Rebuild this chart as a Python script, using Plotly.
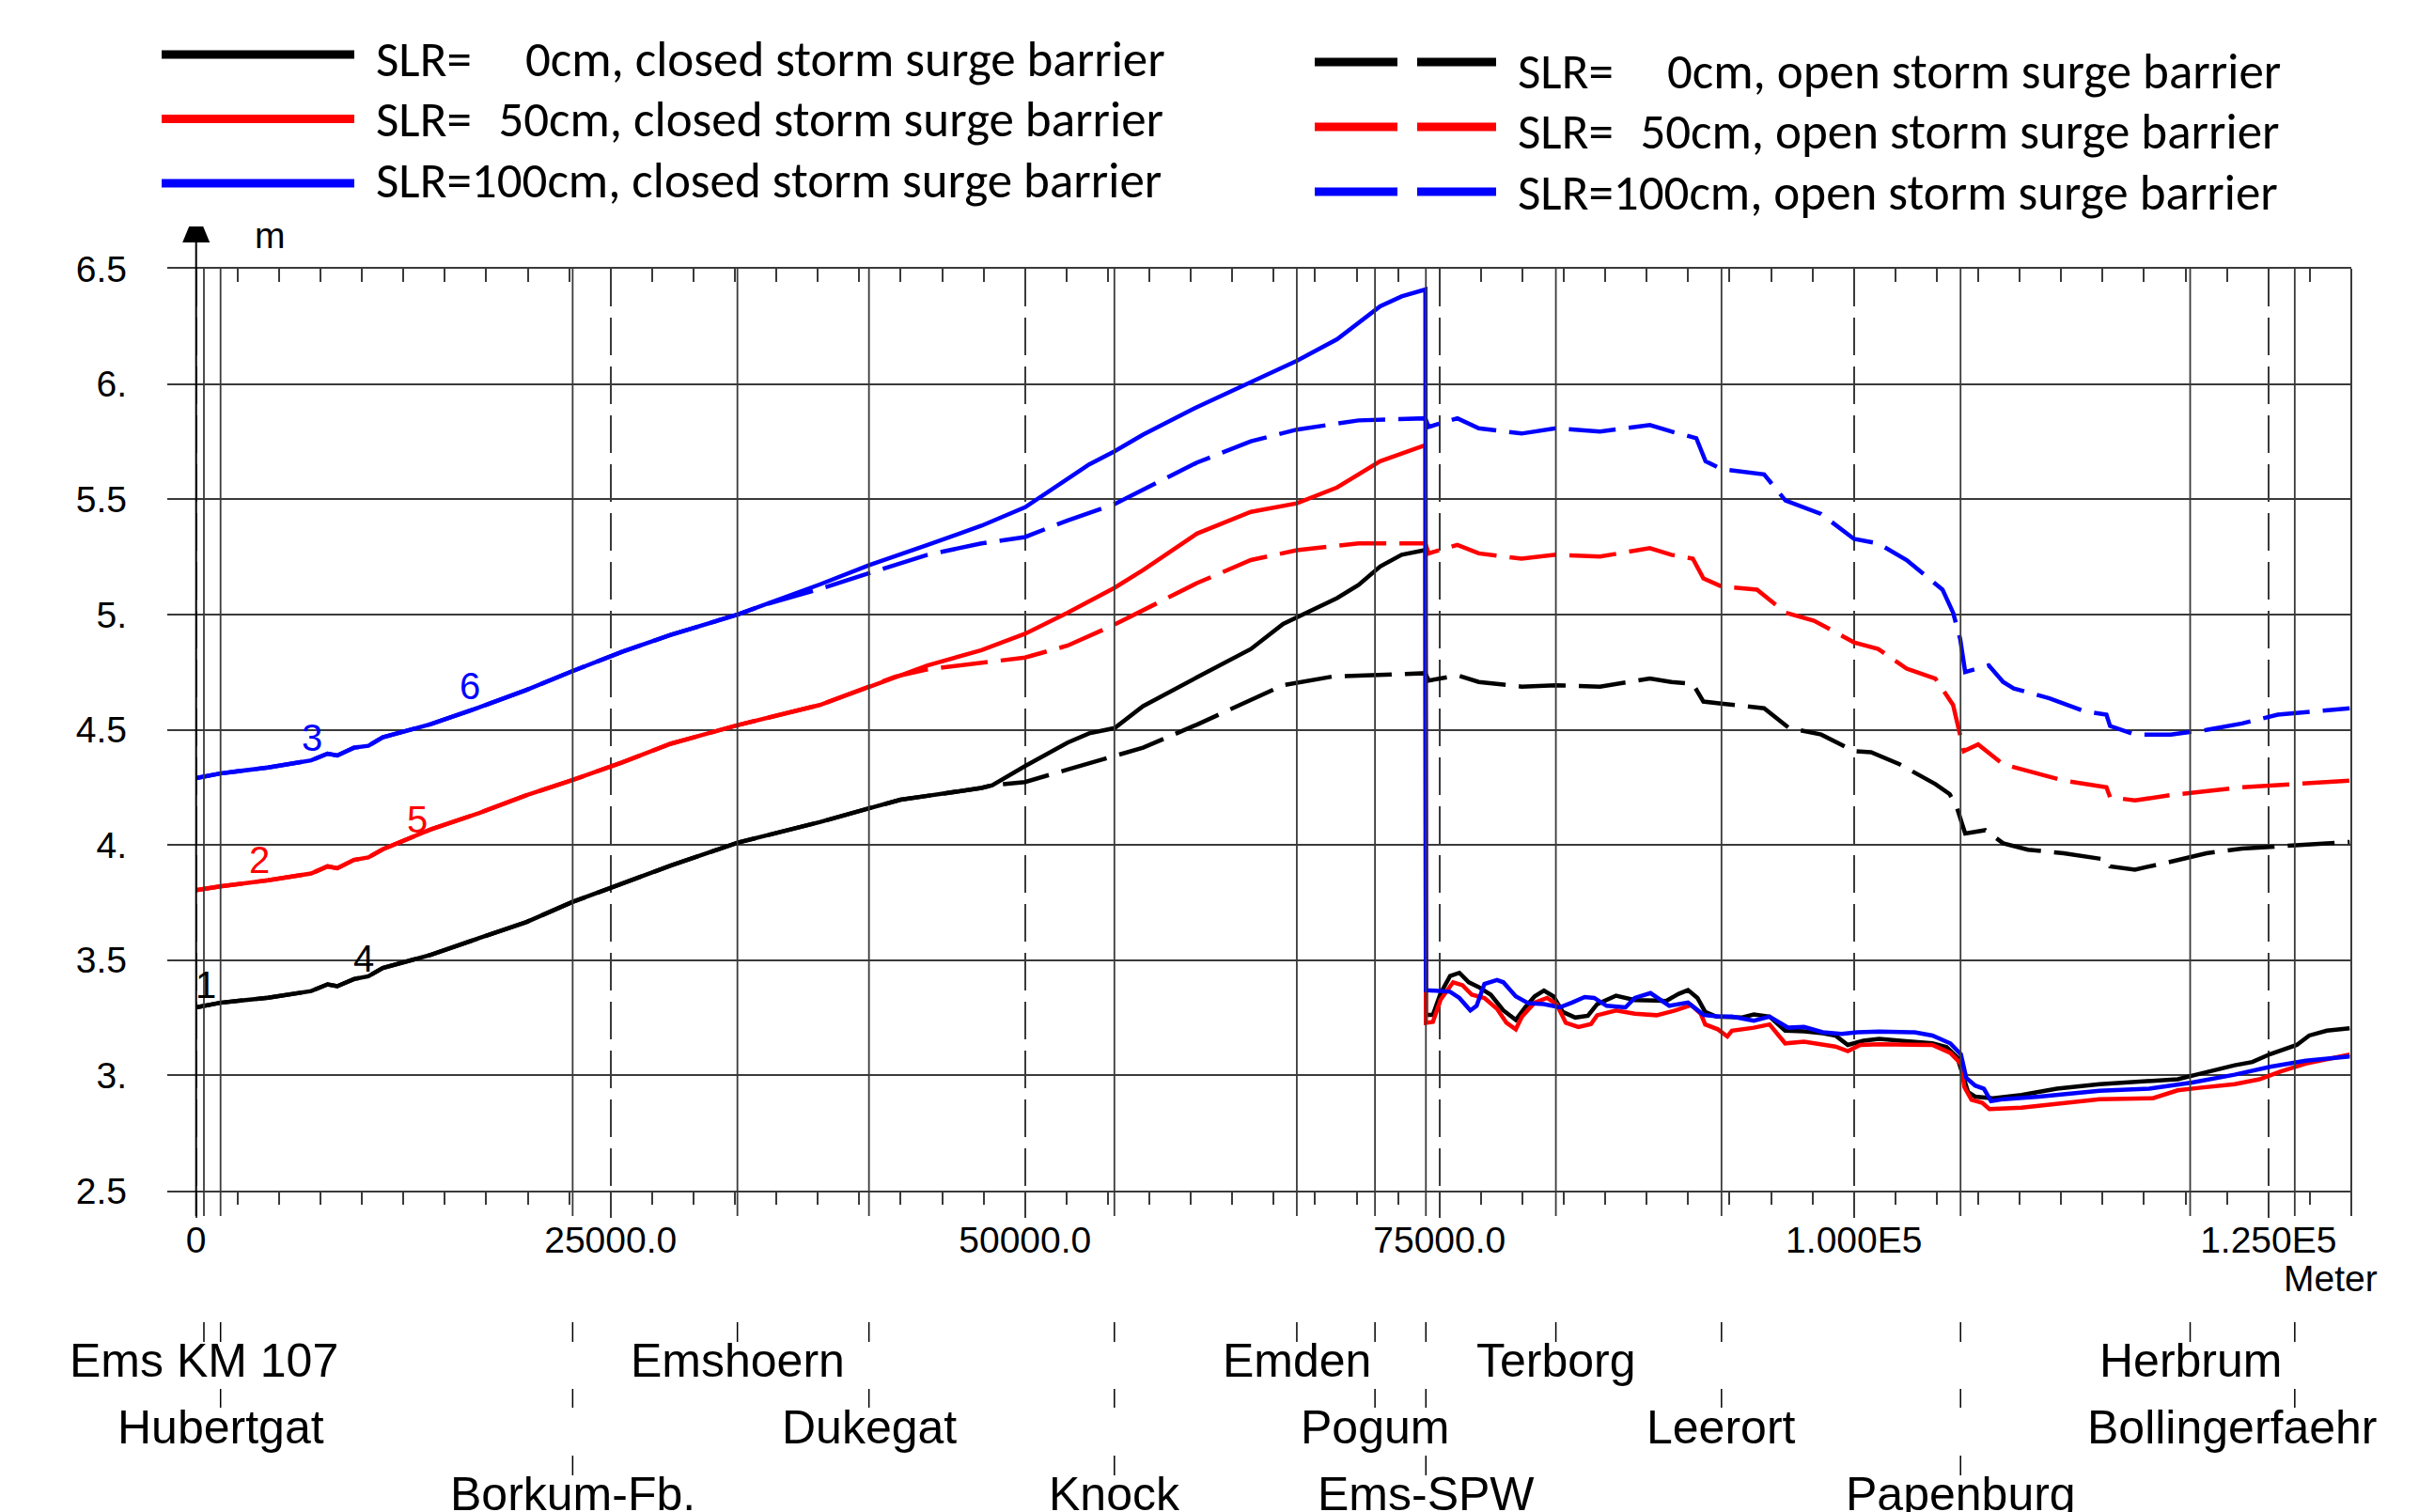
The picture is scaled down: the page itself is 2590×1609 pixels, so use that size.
import plotly.graph_objects as go

# ---------------------------------------------------------------- data
stations = ["Ems KM 107", "Hubertgat", "Borkum-Fb.", "Emshoern", "Dukegat", "Knock",
            "Emden", "Pogum", "Ems-SPW", "Terborg", "Leerort", "Papenburg", "Herbrum",
            "Bollingerfaehr"]
station_m = [470, 1474, 22713, 32650, 40585, 55390, 66394, 71109, 74180, 82020, 92010,
             106430, 120280, 126590]
station_row = [1, 2, 3, 1, 2, 3, 1, 2, 3, 1, 2, 3, 1, 2]

xtick_vals = [0, 25000, 50000, 75000, 100000, 125000]
xtick_text = ["0", "25000.0", "50000.0", "75000.0", "1.000E5", "1.250E5"]
ytick_vals = [2.5, 3.0, 3.5, 4.0, 4.5, 5.0, 5.5, 6.0, 6.5]
ytick_text = ["2.5", "3.", "3.5", "4.", "4.5", "5.", "5.5", "6.", "6.5"]

legend_closed = ["SLR=\u2007\u20070cm, closed storm surge barrier",
                 "SLR=\u200750cm, closed storm surge barrier",
                 "SLR=100cm, closed storm surge barrier"]
legend_open = ["SLR=\u2007\u20070cm, open storm surge barrier",
               "SLR=\u200750cm, open storm surge barrier",
               "SLR=100cm, open storm surge barrier"]

# closed storm surge barrier, SLR = 0 cm
x_closed_0 = [0, 1450, 4340, 6940, 7930, 8510, 9520, 10390, 11260, 14150, 17050, 19940, 22690,
              25730, 28620, 32680, 37610, 40600, 42490, 44120, 47370, 48020, 50000, 52570,
              53870, 55400, 57120, 60370, 63620, 65570, 66390, 68820, 70120, 71420, 72720,
              74150,
              74180, 74600, 75070, 75640, 76200, 76770, 77340, 78090, 78850, 79600, 80170,
              80740, 81300, 81870, 82440, 83190, 83950, 84510, 85650, 86780, 88100, 88670,
              89430, 89990, 90560, 91030, 91700, 92450, 93210, 93960, 94910, 95850, 96990,
              98120, 98880, 99630, 100570, 101520, 103660, 104730, 105590, 106240, 106560,
              106880, 107310, 108380, 110100, 112240, 114810, 117600, 119530, 120820, 122960,
              124030, 125100, 126710, 127460, 128530, 129900]
y_closed_0 = [3.295, 3.315, 3.337, 3.366, 3.395, 3.387, 3.418, 3.43, 3.466, 3.523, 3.595, 3.666,
              3.752, 3.832, 3.91, 4.01, 4.099, 4.159, 4.196, 4.213, 4.247, 4.259, 4.342, 4.444,
              4.484, 4.507, 4.602, 4.727, 4.85, 4.959, 4.988, 5.071, 5.128, 5.208, 5.259,
              5.28,
              3.262, 3.262, 3.357, 3.431, 3.445, 3.404, 3.384, 3.35, 3.282, 3.241, 3.295,
              3.343, 3.368, 3.343, 3.275, 3.251, 3.259, 3.309, 3.346, 3.327, 3.325, 3.323,
              3.354, 3.37, 3.336, 3.275, 3.255, 3.251, 3.251, 3.264, 3.255, 3.194, 3.191,
              3.183, 3.173, 3.132, 3.15, 3.158, 3.146, 3.139, 3.123, 3.078, 3.003,
              2.928, 2.908, 2.901, 2.915, 2.942, 2.962, 2.976, 2.983, 3.006, 3.044,
              3.058, 3.092, 3.132, 3.173, 3.194, 3.204]

# closed storm surge barrier, SLR = 50 cm
x_closed_50 = [0, 1450, 4340, 6940, 7930, 8510, 9520, 10390, 11260, 14150, 17050, 19940, 22690,
               25730, 28620, 32680, 37610, 40600, 44120, 47370, 50000, 52570, 55400, 57120,
               60370, 63620, 66390, 68820, 71420, 74150,
               74180, 74600, 75070, 75820, 76390, 76950, 77710, 78470, 79040, 79600, 79980,
               80740, 81490, 82060, 82620, 83380, 84140, 84510, 85650, 86780, 88100, 89240,
               90180, 90750, 91030, 91790, 92360, 92640, 93960, 94910, 95850, 96990, 98120,
               98880, 99630, 100380, 101520, 103660, 104730, 105810, 106450, 106660, 107090,
               107740, 108170, 110100, 112240, 114810, 118030, 119530, 120820, 122960, 124460,
               125750, 127250, 129900]
y_closed_50 = [3.804, 3.82, 3.847, 3.876, 3.907, 3.899, 3.935, 3.946, 3.981, 4.067, 4.138, 4.216,
               4.281, 4.359, 4.439, 4.52, 4.607, 4.687, 4.779, 4.845, 4.916, 5.008, 5.116, 5.193,
               5.351, 5.445, 5.482, 5.551, 5.665, 5.735,
               3.228, 3.232, 3.329, 3.404, 3.391, 3.35, 3.336, 3.289, 3.228, 3.2, 3.255,
               3.316, 3.336, 3.309, 3.228, 3.21, 3.223, 3.261, 3.282, 3.268, 3.261, 3.282,
               3.305, 3.268, 3.221, 3.2, 3.169, 3.194, 3.207, 3.221, 3.139, 3.146, 3.136,
               3.125, 3.105, 3.132, 3.135, 3.132, 3.132, 3.098, 3.051, 2.949, 2.894,
               2.881, 2.854, 2.86, 2.878, 2.897, 2.901, 2.935, 2.946, 2.962, 2.983,
               3.017, 3.051, 3.09]

# closed storm surge barrier, SLR = 100 cm
x_closed_100 = [0, 1450, 4340, 6940, 7930, 8510, 9520, 10390, 11260, 14150, 17050, 19940, 22690,
                25730, 28620, 32680, 37610, 40600, 44120, 47370, 50000, 52570, 53870, 55400,
                57120, 60370, 63620, 66390, 68820, 71420, 72720, 74150,
                74180, 75070, 75640, 76200, 76860, 77240, 77710, 78470, 78850, 79600, 80360,
                81300, 82250, 83000, 83760, 84330, 85080, 86220, 86780, 87730, 88860, 89990,
                90940, 91880, 92640, 93960, 94910, 96040, 96990, 98120, 99250, 100200, 101520,
                103660, 104730, 105810, 106450, 106770, 107310, 107840, 108270, 109020, 111170,
                114810, 117810, 120390, 122960, 125100, 127250, 129900]
y_closed_100 = [4.29, 4.31, 4.336, 4.367, 4.396, 4.388, 4.422, 4.43, 4.467, 4.524, 4.596, 4.673,
                4.754, 4.839, 4.911, 5.0, 5.13, 5.214, 5.302, 5.385, 5.465, 5.585, 5.651, 5.708,
                5.78, 5.9, 6.008, 6.1, 6.194, 6.337, 6.38, 6.41,
                3.37, 3.367, 3.363, 3.336, 3.282, 3.302, 3.397, 3.414, 3.404, 3.343, 3.313,
                3.309, 3.295, 3.316, 3.34, 3.336, 3.302, 3.295, 3.336, 3.357, 3.302, 3.316,
                3.262, 3.255, 3.255, 3.237, 3.255, 3.207, 3.21, 3.187, 3.18, 3.187, 3.19,
                3.187, 3.173, 3.139, 3.092, 2.99, 2.956, 2.942, 2.888, 2.897, 2.908,
                2.933, 2.942, 2.969, 3.003, 3.037, 3.064, 3.082]

# open storm surge barrier, SLR = 0 cm
x_open_0 = [0, 1450, 4340, 6940, 7930, 8510, 9520, 10390, 11260, 14150, 17050, 19940, 22690,
            25730, 28620, 32680, 37610, 40600, 42490, 44120, 47370, 48020, 49200, 50000, 52570,
            55400, 57120, 60370, 63620, 65570, 68500, 71750, 74140, 74350, 76080, 77370, 79950,
            82010, 84680, 87690, 88980, 90280, 90920, 92000, 94580, 96090, 98020, 100000,
            101030, 102750, 104910, 105770, 106200, 106710, 107920, 109000, 110500, 112650,
            113940, 115230, 115450, 116950, 119110, 121260, 123410, 125560, 129900]
y_open_0 = [3.295, 3.315, 3.337, 3.366, 3.395, 3.387, 3.418, 3.43, 3.466, 3.523, 3.595, 3.666,
            3.752, 3.832, 3.91, 4.01, 4.099, 4.159, 4.196, 4.213, 4.247, 4.259, 4.265, 4.273,
            4.327, 4.384, 4.422, 4.522, 4.63, 4.693, 4.73, 4.739, 4.745, 4.713, 4.736, 4.707,
            4.687, 4.693, 4.687, 4.722, 4.707, 4.699, 4.622, 4.613, 4.593, 4.507, 4.479, 4.407,
            4.402, 4.35, 4.264, 4.221, 4.164, 4.05, 4.064, 4.007, 3.979, 3.964, 3.95, 3.936,
            3.907, 3.893, 3.927, 3.964, 3.984, 3.993, 4.013]

# open storm surge barrier, SLR = 50 cm
x_open_50 = [0, 1450, 4340, 6940, 7930, 8510, 9520, 10390, 11260, 14150, 17050, 19940, 22690,
             25730, 28620, 32680, 37610, 40600, 42160, 44120, 47370, 50000, 52570, 55400,
             60370, 63620, 66390, 70120, 74140, 74350, 76080, 77370, 79950, 82010, 84680,
             87690, 88980, 90280, 90920, 92000, 94150, 95870, 97590, 100000, 101460, 103180,
             104910, 105980, 106630, 107490, 109000, 110500, 112650, 115230, 115450, 116950,
             119110, 123410, 129900]
y_open_50 = [3.804, 3.82, 3.847, 3.876, 3.907, 3.899, 3.935, 3.946, 3.981, 4.067, 4.138, 4.216,
             4.281, 4.359, 4.439, 4.52, 4.607, 4.687, 4.73, 4.762, 4.79, 4.813, 4.865, 4.956,
             5.136, 5.236, 5.279, 5.308, 5.308, 5.265, 5.302, 5.265, 5.242, 5.259, 5.251,
             5.288, 5.259, 5.242, 5.156, 5.122, 5.108, 5.008, 4.973, 4.879, 4.85, 4.765,
             4.722, 4.607, 4.407, 4.436, 4.35, 4.322, 4.279, 4.25, 4.207, 4.193,
             4.216, 4.25, 4.279]

# open storm surge barrier, SLR = 100 cm
x_open_100 = [0, 1450, 4340, 6940, 7930, 8510, 9520, 10390, 11260, 14150, 17050, 19940, 22690,
              25730, 28620, 32680, 34360, 37610, 40600, 44120, 47370, 50000, 52570, 55400,
              60370, 63620, 66390, 70120, 74140, 74350, 76080, 77370, 79950, 82010, 84680,
              87690, 88980, 90490, 91050, 92000, 94580, 95870, 98020, 100000, 101460, 103180,
              105340, 105980, 106410, 106710, 108130, 109000, 109640, 111790, 113940, 115230,
              115450, 116950, 119110, 121260, 123410, 125560, 129900]
y_open_100 = [4.29, 4.31, 4.336, 4.367, 4.396, 4.388, 4.422, 4.43, 4.467, 4.524, 4.596, 4.673,
              4.754, 4.839, 4.911, 5.0, 5.044, 5.11, 5.179, 5.259, 5.308, 5.336, 5.408, 5.479,
              5.659, 5.751, 5.802, 5.842, 5.851, 5.814, 5.851, 5.808, 5.785, 5.808, 5.794,
              5.822, 5.794, 5.765, 5.665, 5.631, 5.608, 5.494, 5.436, 5.328, 5.308, 5.236,
              5.108, 5.008, 4.893, 4.75, 4.779, 4.707, 4.679, 4.636, 4.579, 4.565,
              4.516, 4.479, 4.479, 4.499, 4.527, 4.565, 4.593]

# curve number labels
curve_label_text = ["1", "2", "3", "4", "5", "6"]
curve_label_x = [590, 3843, 7010, 10135, 13314, 16494]
curve_label_y = [3.394, 3.937, 4.467, 3.508, 4.109, 4.69]
curve_label_series = [0, 1, 2, 0, 1, 2]

# ---------------------------------------------------------------- style / layout
W, H = 2590, 1609
OFF = 8                                     # page body margin of the html output
L, R, T, B = 178, 2502, 286, 1267           # plot area in screen pixels
BLACK, RED, BLUE = "#000000", "#ff0000", "#0000ff"
colors = [BLACK, RED, BLUE]
GRID = "#3a3a3a"
AXFONT = "Liberation Sans, Arial, sans-serif"
LEGFONT = "Carlito, Lato, sans-serif"


def px_x(p):
    return (p - L) / (R - L)


def px_y(p):
    return (B - p) / (B - T)


fig = go.Figure()

open_series = [(x_open_0, y_open_0), (x_open_50, y_open_50), (x_open_100, y_open_100)]
closed_series = [(x_closed_0, y_closed_0), (x_closed_50, y_closed_50), (x_closed_100, y_closed_100)]

for (xs, ys), c, name in zip(open_series, colors, legend_open):
    fig.add_trace(go.Scatter(x=xs, y=ys, mode="lines", name=name, showlegend=False,
                             line=dict(color=c, width=4.5, dash="50px,14px")))
for (xs, ys), c, name in zip(closed_series, colors, legend_closed):
    fig.add_trace(go.Scatter(x=xs, y=ys, mode="lines", name=name, showlegend=False,
                             line=dict(color=c, width=4.5)))

# empty trace so the top (inward tick) axis is drawn
fig.add_trace(go.Scatter(x=[], y=[], xaxis="x2", showlegend=False, hoverinfo="skip"))

shapes = []
annotations = []

# station lines in plot + station label ticks
tick_rows = [(1407, 1428), (1478, 1498), (1549, 1570)]
row_center = [1448, 1519, 1590]
for name, m, row in zip(stations, station_m, station_row):
    shapes.append(dict(type="line", xref="x", yref="paper", x0=m, x1=m,
                       y0=px_y(B + 27), y1=1, line=dict(color=GRID, width=1.8)))
    for r in range(row):
        t0, t1 = tick_rows[r]
        shapes.append(dict(type="line", xref="x", yref="paper", x0=m, x1=m,
                           y0=px_y(t1), y1=px_y(t0), line=dict(color=BLACK, width=1.5)))
    if m > 125000:
        annotations.append(dict(text=name, xref="paper", yref="paper", x=px_x(2532),
                                y=px_y(row_center[row - 1]), xanchor="right", yanchor="middle",
                                showarrow=False, font=dict(family=AXFONT, size=50, color=BLACK)))
    else:
        annotations.append(dict(text=name, xref="x", yref="paper", x=m,
                                y=px_y(row_center[row - 1]), xanchor="center", yanchor="middle",
                                showarrow=False, font=dict(family=AXFONT, size=50, color=BLACK)))

# right border
shapes.append(dict(type="line", xref="paper", yref="paper", x0=1, x1=1, y0=px_y(B + 27), y1=1,
                   line=dict(color=GRID, width=2)))
# y axis with arrow at x = 0
shapes.append(dict(type="line", xref="x", yref="paper", x0=0, x1=0, y0=px_y(B + 27),
                   y1=px_y(258), line=dict(color=BLACK, width=2)))
shapes.append(dict(type="path", xref="x", yref="paper", xsizemode="pixel", ysizemode="pixel",
                   xanchor=0, yanchor=1, path="M -14.5 28 L 14.5 28 L 7.5 45 L -7.5 45 Z",
                   fillcolor=BLACK, line=dict(width=0)))
annotations.append(dict(text="m", xref="paper", yref="paper", x=px_x(287), y=px_y(250),
                        xanchor="center", yanchor="middle", showarrow=False,
                        font=dict(family=AXFONT, size=39, color=BLACK)))
annotations.append(dict(text="Meter", xref="paper", yref="paper", x=px_x(2532), y=px_y(1360),
                        xanchor="right", yanchor="middle", showarrow=False,
                        font=dict(family=AXFONT, size=39, color=BLACK)))

# curve number labels
for t, xv, yv, s in zip(curve_label_text, curve_label_x, curve_label_y, curve_label_series):
    annotations.append(dict(text=t, x=xv, y=yv, xref="x", yref="y", showarrow=False,
                            xanchor="center", yanchor="middle",
                            font=dict(family=AXFONT, size=40, color=colors[s])))

# manual legend
left_rows = [58, 126.5, 195]
left_text_rows = [63, 127, 192]
right_rows = [66, 135, 204]
right_text_rows = [76, 140, 205]
for i in range(3):
    shapes.append(dict(type="line", xref="paper", yref="paper", x0=px_x(172), x1=px_x(377),
                       y0=px_y(left_rows[i]), y1=px_y(left_rows[i]),
                       line=dict(color=colors[i], width=9)))
    annotations.append(dict(text=legend_closed[i], xref="paper", yref="paper", x=px_x(398),
                            y=px_y(left_text_rows[i]), xanchor="left", yanchor="middle",
                            showarrow=False, font=dict(family=LEGFONT, size=53, color=BLACK)))
    shapes.append(dict(type="line", xref="paper", yref="paper", x0=px_x(1399), x1=px_x(1592),
                       y0=px_y(right_rows[i]), y1=px_y(right_rows[i]),
                       line=dict(color=colors[i], width=9, dash="88px,21px")))
    annotations.append(dict(text=legend_open[i], xref="paper", yref="paper", x=px_x(1613),
                            y=px_y(right_text_rows[i]), xanchor="left", yanchor="middle",
                            showarrow=False, font=dict(family=LEGFONT, size=53, color=BLACK)))

XR = [-1740, 130000]
fig.update_layout(
    width=W, height=H,
    margin=dict(l=L - OFF, r=W - (R - OFF), t=T - OFF, b=H - (B - OFF), pad=0),
    paper_bgcolor="white", plot_bgcolor="white",
    showlegend=False,
    shapes=shapes, annotations=annotations,
    xaxis=dict(range=XR, tickmode="array", tickvals=xtick_vals, ticktext=xtick_text,
               ticks="outside", ticklen=27, tickwidth=1.8, tickcolor=GRID,
               ticklabelstandoff=-10,
               showgrid=True, gridcolor=GRID, gridwidth=1.8, griddash="40px,12px",
               zeroline=False, showline=True, mirror=True, linecolor=GRID, linewidth=2,
               tickfont=dict(family=AXFONT, size=39, color=BLACK),
               minor=dict(tickmode="linear", tick0=0, dtick=2500, ticks="outside", ticklen=13,
                          tickwidth=1.5, tickcolor=GRID, showgrid=False)),
    xaxis2=dict(range=XR, overlaying="x", side="top", anchor="y", tickmode="linear", tick0=0,
                dtick=2500, ticks="inside", ticklen=14, tickwidth=1.5, tickcolor=GRID,
                showticklabels=False, showgrid=False, zeroline=False, showline=False),
    yaxis=dict(range=[2.5, 6.5], tickmode="array", tickvals=ytick_vals, ticktext=ytick_text,
               ticks="", showgrid=True, gridcolor=GRID, gridwidth=2, zeroline=False,
               showline=False, ticklabelstandoff=42,
               tickfont=dict(family=AXFONT, size=39, color=BLACK)),
)

fig.write_html("out.html")
